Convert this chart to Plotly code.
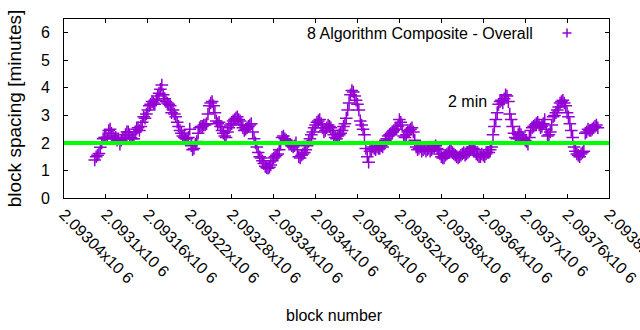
import plotly.graph_objects as go

# ---- data ----
# samples every 4 blocks starting at block_start
block_start = 2093084
block_step = 4
spacing_minutes = [
    1.38, 1.55, 1.84, 2.15, 2.20, 2.45, 2.35, 2.15, 2.10, 1.95,
    2.15, 2.30, 2.40, 2.20, 2.15, 2.50, 2.45, 2.75, 2.90, 3.20,
    3.40, 3.45, 3.55, 3.80, 4.10, 3.60, 3.45, 3.35, 3.20, 2.95,
    2.60, 2.35, 2.20, 2.15, 2.50, 1.75, 1.95, 2.35, 2.60, 2.65,
    2.70, 3.35, 3.50, 3.10, 2.70, 2.60, 2.35, 2.20, 2.55, 2.70,
    2.85, 2.95, 2.80, 2.55, 2.50, 2.60, 2.70, 2.15, 1.85, 1.50,
    1.35, 1.15, 1.08, 1.20, 1.45, 1.55, 1.75, 2.20, 2.15, 2.05,
    1.95, 1.85, 2.00, 1.50, 1.55, 1.65, 1.90, 2.15, 2.40, 2.65,
    2.80, 2.70, 2.40, 2.55, 2.60, 2.45, 2.20, 2.25, 2.35, 2.60,
    2.90, 3.45, 3.90, 3.70, 3.40, 2.80, 2.50, 1.80, 1.30, 1.75,
    1.80, 1.85, 1.80, 1.85, 2.10, 2.25, 2.35, 2.45, 2.50, 2.85,
    2.65, 2.20, 2.40, 2.50, 2.40, 1.85, 1.80, 1.70, 1.80, 1.75,
    1.70, 1.80, 1.90, 1.75, 1.50, 1.45, 1.60, 1.70, 1.65, 1.55,
    1.45, 1.55, 1.65, 1.60, 1.70, 1.85, 1.75, 1.55, 1.50, 1.55,
    1.60, 1.65, 1.85, 2.60, 3.10, 3.50, 3.45, 3.75, 3.50, 2.85,
    2.35, 2.15, 2.40, 2.20, 2.10, 1.95, 2.45, 2.60, 2.70, 2.65,
    2.60, 2.85, 2.25, 2.40, 2.95, 3.10, 3.30, 3.50, 3.45, 3.10,
    2.70, 2.20, 1.70, 1.55, 1.60, 1.70, 2.40, 2.45, 2.50, 2.60,
    2.55,
]
# in-between samples, 2 blocks after each of the above
spacing_minutes_mid = [
    1.50, 1.62, 2.00, 2.20, 2.15, 2.50, 2.25, 2.20, 2.15, 2.10,
    2.20, 2.40, 2.30, 2.15, 2.40, 2.55, 2.60, 2.95, 3.05, 3.35,
    3.50, 3.40, 3.70, 3.95, 3.75, 3.50, 3.40, 3.10, 3.05, 2.75,
    2.45, 2.25, 2.15, 2.20, 1.90, 1.80, 2.05, 2.55, 2.60, 2.65,
    3.05, 3.45, 3.35, 2.80, 2.75, 2.45, 2.25, 2.40, 2.65, 2.80,
    2.90, 2.85, 2.65, 2.45, 2.55, 2.65, 2.40, 2.00, 1.65, 1.45,
    1.25, 1.10, 1.12, 1.35, 1.50, 1.60, 1.95, 2.25, 2.10, 1.95,
    1.90, 1.90, 1.75, 1.45, 1.60, 1.75, 2.05, 2.30, 2.55, 2.75,
    2.85, 2.55, 2.45, 2.65, 2.55, 2.30, 2.15, 2.30, 2.45, 2.70,
    3.20, 3.75, 3.85, 3.55, 3.20, 2.65, 2.30, 1.50, 1.70, 1.85,
    1.75, 1.80, 1.90, 1.95, 2.15, 2.30, 2.40, 2.50, 2.60, 2.75,
    2.25, 2.30, 2.45, 2.55, 2.10, 1.75, 1.85, 1.75, 1.70, 1.80,
    1.75, 1.85, 1.80, 1.60, 1.45, 1.55, 1.65, 1.70, 1.60, 1.50,
    1.50, 1.60, 1.55, 1.65, 1.80, 1.80, 1.60, 1.50, 1.60, 1.50,
    1.65, 1.75, 2.30, 2.85, 3.40, 3.55, 3.60, 3.70, 3.05, 2.60,
    2.20, 2.30, 2.30, 2.15, 2.05, 2.20, 2.55, 2.65, 2.75, 2.55,
    2.70, 2.50, 2.30, 2.65, 3.00, 3.20, 3.45, 3.55, 3.35, 2.95,
    2.45, 1.85, 1.60, 1.50, 1.65, 2.35, 2.50, 2.45, 2.55, 2.65,
]
blocks = [block_start + i * block_step for i in range(len(spacing_minutes))]
blocks_mid = [block_start + block_step // 2 + i * block_step
              for i in range(len(spacing_minutes_mid))]

target_minutes = 2
x_tick_vals = [2093040 + 60 * i for i in range(14)]
x_tick_text = ["2.09304x10 6", "2.0931x10 6", "2.09316x10 6", "2.09322x10 6",
               "2.09328x10 6", "2.09334x10 6", "2.0934x10 6", "2.09346x10 6",
               "2.09352x10 6", "2.09358x10 6", "2.09364x10 6", "2.0937x10 6",
               "2.09376x10 6", "2.09382x10 6"]
y_tick_vals = [0, 1, 2, 3, 4, 5, 6]
series_name = "8 Algorithm Composite - Overall"

PURPLE = "#9400D3"
GREEN = "#00FF00"
FONT = "Liberation Sans, Arial, sans-serif"

W, H = 640, 330
L, R, T, B = 64, 31, 19, 132
PW, PH = W - L - R, H - T - B

all_x, all_y = [], []
for a, b, c, d in zip(blocks, spacing_minutes, blocks_mid + [None], spacing_minutes_mid + [None]):
    all_x.append(a); all_y.append(b)
    if c is not None:
        all_x.append(c); all_y.append(d)

fig = go.Figure()
fig.add_trace(go.Scatter(
    x=all_x, y=all_y, mode="markers", name=series_name,
    marker=dict(symbol="cross-thin", size=9, color=PURPLE,
                line=dict(color=PURPLE, width=1.5)),
    showlegend=False,
))
fig.add_hline(y=target_minutes, line=dict(color=GREEN, width=4), layer="above")

fig.update_layout(
    width=W, height=H,
    margin=dict(l=L, r=R, t=T, b=B, pad=0, autoexpand=False),
    paper_bgcolor="white", plot_bgcolor="white",
    font=dict(family=FONT, size=16, color="black"),
    showlegend=False,
)
fig.update_xaxes(
    range=[x_tick_vals[0], x_tick_vals[-1]],
    tickvals=x_tick_vals, ticktext=x_tick_text, tickangle=45,
    ticks="inside", ticklen=4, tickcolor="black",
    showline=True, linecolor="black", linewidth=1, mirror="ticks",
    showgrid=False, zeroline=False, automargin=False,
    tickfont=dict(size=16), ticklabeloverflow="allow",
)
fig.update_yaxes(
    range=[0, 6.5], tickvals=y_tick_vals,
    ticks="inside", ticklen=4, tickcolor="black",
    showline=True, linecolor="black", linewidth=1, mirror="ticks",
    showgrid=False, zeroline=False, automargin=False,
    ticklabelstandoff=10,
    title=dict(text="block spacing [minutes]", standoff=14),
)

# x title
fig.add_annotation(text="block number", xref="paper", yref="paper",
                   x=(334 - L) / PW, y=-(315 - (H - B)) / PH,
                   xanchor="center", yanchor="middle", showarrow=False)
# legend text and sample
fig.add_annotation(text=series_name, xref="paper", yref="paper",
                   x=(535 - L) / PW, y=1 - (33 - T) / PH,
                   xanchor="right", yanchor="middle", showarrow=False)
lx, ly = 567, 33
fig.add_shape(type="line", xref="paper", yref="paper",
              x0=(lx - 4.5 - L) / PW, x1=(lx + 4.5 - L) / PW,
              y0=1 - (ly - T) / PH, y1=1 - (ly - T) / PH,
              line=dict(color=PURPLE, width=1.5))
fig.add_shape(type="line", xref="paper", yref="paper",
              x0=(lx - L) / PW, x1=(lx - L) / PW,
              y0=1 - (ly - 4.5 - T) / PH, y1=1 - (ly + 4.5 - T) / PH,
              line=dict(color=PURPLE, width=1.5))
# "2 min" label
fig.add_annotation(text="2 min", x=2093587, y=3.5, xanchor="left", yanchor="middle",
                   showarrow=False)

fig.write_html("out.html")
